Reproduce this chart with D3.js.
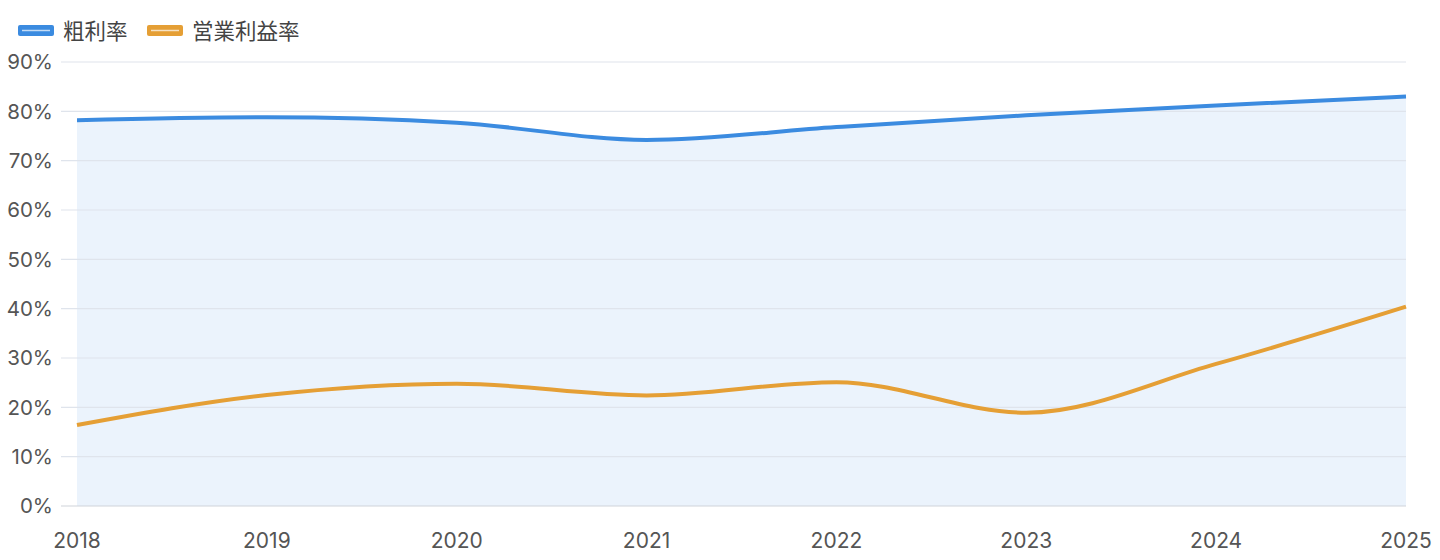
<!DOCTYPE html>
<html>
<head>
<meta charset="utf-8">
<script src="https://cdn.jsdelivr.net/npm/d3@7"></script>
<style>
  body { margin: 0; background: #fff; }
  svg { display: block; font-family: Inter, "Noto Sans CJK JP", sans-serif; }
</style>
</head>
<body>
<script>
// Data
const years = ["2018", "2019", "2020", "2021", "2022", "2023", "2024", "2025"];
const grossMargin = [78.2, 78.8, 77.7, 74.2, 76.8, 79.2, 81.2, 83.0];
const operatingMargin = [16.4, 22.5, 24.8, 22.4, 25.1, 18.9, 28.8, 40.4];
const yTicks = [0, 10, 20, 30, 40, 50, 60, 70, 80, 90];
const seriesNames = ["粗利率", "営業利益率"];

// Layout
const WIDTH = 1440;
const HEIGHT = 560;
const MARGIN = { top: 62, right: 34, bottom: 54, left: 77 };
const BLUE = "#3b8be0";
const ORANGE = "#e59f35";

const svg = d3.select("body")
  .append("svg")
  .attr("width", WIDTH)
  .attr("height", HEIGHT);

const x = d3.scalePoint()
  .domain(years)
  .range([MARGIN.left, WIDTH - MARGIN.right]);

const y = d3.scaleLinear()
  .domain([0, 90])
  .range([HEIGHT - MARGIN.bottom, MARGIN.top]);

// Area under gross margin
const area = d3.area()
  .x((d, i) => x(years[i]))
  .y0(y(0))
  .y1((d) => y(d))
  .curve(d3.curveMonotoneX);

svg.append("path")
  .datum(grossMargin)
  .attr("fill", "#ebf3fc")
  .attr("d", area);

// Gridlines
svg.append("g")
  .selectAll("line")
  .data(yTicks)
  .join("line")
  .attr("x1", 61)
  .attr("x2", WIDTH - MARGIN.right)
  .attr("y1", (d) => y(d))
  .attr("y2", (d) => y(d))
  .attr("stroke", (d) => d === 0 ? "#cfd3da" : "#dfe4ec")
  .attr("stroke-width", 1.2);

// Y labels
svg.append("g")
  .selectAll("text")
  .data(yTicks)
  .join("text")
  .attr("x", 53)
  .attr("y", (d) => y(d))
  .attr("dy", "0.36em")
  .attr("text-anchor", "end")
  .attr("fill", "#555")
  .style("font-size", "20.5px")
  .text((d) => d + "%");

// X labels
svg.append("g")
  .selectAll("text")
  .data(years)
  .join("text")
  .attr("x", (d) => x(d))
  .attr("y", 548)
  .attr("text-anchor", "middle")
  .attr("fill", "#555")
  .style("font-size", "21px")
  .text((d) => d);

// Lines
const line = d3.line()
  .x((d, i) => x(years[i]))
  .y((d) => y(d))
  .curve(d3.curveMonotoneX);

[[grossMargin, BLUE], [operatingMargin, ORANGE]].forEach(([data, color]) => {
  svg.append("path")
    .datum(data)
    .attr("fill", "none")
    .attr("stroke", color)
    .attr("stroke-width", 4)
    .attr("stroke-linejoin", "round")
    .attr("d", line);
});

// Legend
const legendItems = [
  { name: seriesNames[0], color: BLUE, x: 18 },
  { name: seriesNames[1], color: ORANGE, x: 147 }
];
const legend = svg.append("g");
legendItems.forEach((item) => {
  const g = legend.append("g").attr("transform", `translate(${item.x}, 0)`);
  g.append("rect")
    .attr("x", 0).attr("y", 25)
    .attr("width", 36).attr("height", 11)
    .attr("rx", 2)
    .attr("fill", item.color);
  g.append("line")
    .attr("x1", 4).attr("x2", 32)
    .attr("y1", 30.5).attr("y2", 30.5)
    .attr("stroke", "#fff")
    .attr("stroke-opacity", 0.7)
    .attr("stroke-width", 1.5);
  g.append("text")
    .attr("x", 45)
    .attr("y", 31)
    .attr("dy", "0.36em")
    .attr("fill", "#444")
    .style("font-size", "21.5px")
    .text(item.name);
});
</script>
</body>
</html>
